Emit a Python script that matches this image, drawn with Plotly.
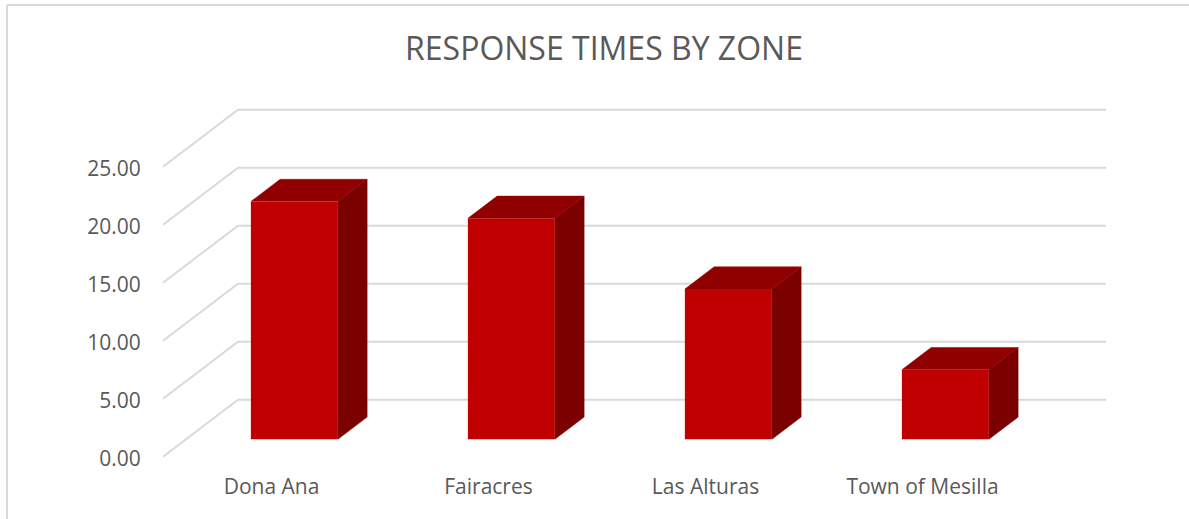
import plotly.graph_objects as go

# Data
categories = ["Dona Ana", "Fairacres", "Las Alturas", "Town of Mesilla"]
response_times = [20.5, 19.05, 12.95, 6.0]
value_ticks = [0, 5, 10, 15, 20, 25]
value_tick_labels = ["0.00", "5.00", "10.00", "15.00", "20.00", "25.00"]

# Figure geometry
W, H = 1189, 519
PLOT_L, PLOT_R, PLOT_T, PLOT_B = 160, 1109, 100, 466
PX_PER_CAT = 217.0
PX_PER_UNIT = 11.6
X0_PX = 271.5          # pixel of category 0
Y0_PX = 458.2          # pixel of tick label for value 0
LIFT = 1.5 / PX_PER_UNIT  # the drawn floor sits slightly above the tick label

# Oblique projection: depth 0 = front plane, depth 1 = back wall
DEPTH_X = 75 / PX_PER_CAT
DEPTH_Y = 57 / PX_PER_UNIT
BAR_D0, BAR_D1 = 0.305, 0.695
BAR_W = 87 / PX_PER_CAT

GRID = "#d9d9d9"
TEXT = "#595959"
FRONT, TOP, SIDE = "#c00000", "#900000", "#7b0000"
FONT = "Open Sans"


def proj(x, v, d):
    return x + d * DEPTH_X, v + d * DEPTH_Y + LIFT


x_min, x_max = -0.5, 3.5
shapes = []
for v in value_ticks:
    a = proj(x_min, v, 0)
    b = proj(x_min, v, 1)
    c = proj(x_max, v, 1)
    shapes.append(dict(
        type="path", layer="below", xref="x", yref="y",
        path=f"M {a[0]} {a[1]} L {b[0]} {b[1]} L {c[0]} {c[1]}",
        line=dict(color=GRID, width=2),
    ))

# outer chart border
border_top = 1 + (PLOT_T - 5) / (PLOT_B - PLOT_T)
border_left = (7 - PLOT_L) / (PLOT_R - PLOT_L)
shapes.append(dict(type="line", xref="paper", yref="paper",
                   x0=border_left, x1=2, y0=border_top, y1=border_top,
                   line=dict(color=GRID, width=2)))
shapes.append(dict(type="line", xref="paper", yref="paper",
                   x0=border_left, x1=border_left, y0=-1, y1=border_top,
                   line=dict(color=GRID, width=2)))

fig = go.Figure()


def face(pts, color):
    fig.add_trace(go.Scatter(
        x=[p[0] for p in pts], y=[p[1] for p in pts],
        mode="lines", fill="toself", fillcolor=color,
        line=dict(color=color, width=0.5), hoverinfo="skip", showlegend=False,
    ))


front_x, front_y, front_base = [], [], []
for i, val in enumerate(response_times):
    xl, xr = i - BAR_W / 2, i + BAR_W / 2
    face([proj(xr, 0, BAR_D0), proj(xr, 0, BAR_D1), proj(xr, val, BAR_D1), proj(xr, val, BAR_D0)], SIDE)
    face([proj(xl, val, BAR_D0), proj(xl, val, BAR_D1), proj(xr, val, BAR_D1), proj(xr, val, BAR_D0)], TOP)
    px, pbase = proj(i, 0, BAR_D0)
    front_x.append(px)
    front_base.append(pbase)
    front_y.append(val)

fig.add_trace(go.Bar(
    x=front_x, y=front_y, base=front_base, width=BAR_W,
    marker=dict(color=FRONT, line=dict(width=0)),
    text=categories, textposition="none", showlegend=False,
))

fig.update_layout(
    width=W, height=H,
    autosize=False,
    paper_bgcolor="white", plot_bgcolor="rgba(0,0,0,0)",
    margin=dict(l=PLOT_L, r=W - PLOT_R, t=PLOT_T, b=H - PLOT_B, pad=0),
    title=dict(text="RESPONSE TIMES BY ZONE", x=604 / W, y=1 - 49 / H,
               xanchor="center", yanchor="middle",
               font=dict(family=FONT, size=32, color=TEXT)),
    shapes=shapes,
    xaxis=dict(
        range=[(PLOT_L - X0_PX) / PX_PER_CAT, (PLOT_R - X0_PX) / PX_PER_CAT],
        tickmode="array", tickvals=list(range(len(categories))), ticktext=categories,
        showgrid=False, zeroline=False, showline=False,
        ticks="outside", ticklen=2, tickcolor="rgba(0,0,0,0)",
        tickfont=dict(family=FONT, size=21, color=TEXT),
    ),
    yaxis=dict(
        range=[(Y0_PX - PLOT_B) / PX_PER_UNIT, (Y0_PX - PLOT_T) / PX_PER_UNIT],
        tickmode="array", tickvals=value_ticks, ticktext=value_tick_labels,
        showgrid=False, zeroline=False, showline=False,
        ticks="outside", ticklen=14, tickcolor="rgba(0,0,0,0)",
        tickfont=dict(family=FONT, size=21, color=TEXT),
    ),
)

fig.write_html("out.html", config={"displayModeBar": False},
               post_script="document.body.style.margin='0';")
